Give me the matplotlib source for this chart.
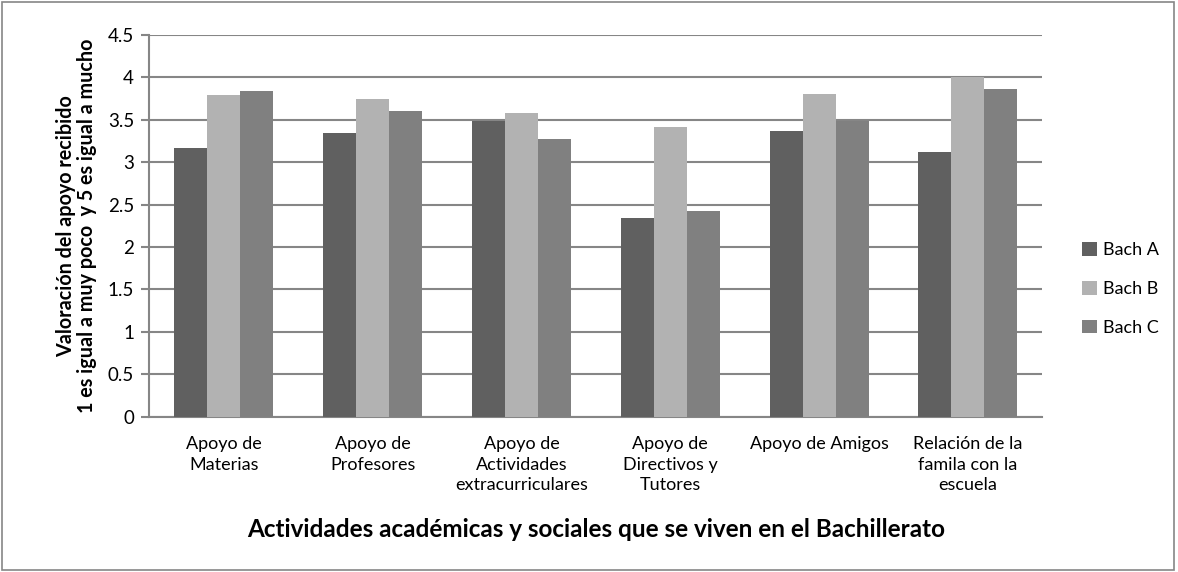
import numpy as np
import matplotlib

matplotlib.use("Agg")
import matplotlib.pyplot as plt
from matplotlib.patches import Rectangle

plt.rcParams["font.family"] = ["Lato", "DejaVu Sans"]

categories = [
    "Apoyo de\nMaterias",
    "Apoyo de\nProfesores",
    "Apoyo de\nActividades\nextracurriculares",
    "Apoyo de\nDirectivos y\nTutores",
    "Apoyo de Amigos",
    "Relación de la\nfamila con la\nescuela",
]
series_names = ["Bach A", "Bach B", "Bach C"]
bach_a = [3.17, 3.35, 3.49, 2.34, 3.37, 3.12]
bach_b = [3.79, 3.74, 3.58, 3.41, 3.80, 4.00]
bach_c = [3.84, 3.60, 3.27, 2.42, 3.49, 3.86]
colors = ["#606060", "#b2b2b2", "#808080"]

fig = plt.figure(figsize=(11.78, 5.72), dpi=100)
ax = fig.add_axes([0.1268, 0.2715, 0.758, 0.6673])

x = np.arange(len(categories))
width = 0.222
for i, (vals, name, col) in enumerate(zip([bach_a, bach_b, bach_c], series_names, colors)):
    ax.bar(x + (i - 1) * width, vals, width=width, color=col, label=name, zorder=3)

ax.set_xlim(-0.5, len(categories) - 0.5)
ax.set_ylim(0, 4.5)
ax.set_yticks(np.arange(0, 4.51, 0.5))
ax.set_yticklabels(["0", "0.5", "1", "1.5", "2", "2.5", "3", "3.5", "4", "4.5"])
ax.yaxis.grid(True, color="#868686", linewidth=1.5, zorder=0)
ax.set_axisbelow(True)

ax.set_xticks(x)
ax.set_xticklabels(categories, fontsize=13, linespacing=1.35)
ax.tick_params(axis="x", length=0, pad=14)
ax.tick_params(axis="y", length=6, color="#868686", width=1.5, labelsize=13.5, pad=5)

for side in ["top", "right"]:
    ax.spines[side].set_visible(False)
for side in ["left", "bottom"]:
    ax.spines[side].set_color("#868686")
    ax.spines[side].set_linewidth(1.5)

ax.set_xlabel("Actividades académicas y sociales que se viven en el Bachillerato",
              fontsize=17.5, fontweight="bold", labelpad=18)
ax.set_ylabel("Valoración del apoyo recibido\n1 es igual a muy poco  y 5 es igual a mucho",
              fontsize=14.2, fontweight="bold", labelpad=8, linespacing=1.05)

ax.legend(loc="center left", bbox_to_anchor=(0.905, 0.4948),
          bbox_transform=fig.transFigure, frameon=False,
          fontsize=13, handlelength=0.8, handleheight=0.8, labelspacing=1.25,
          handletextpad=0.35)

# outer chart border
fig.patches.append(Rectangle((0.002, 0.003), 0.995, 0.994, transform=fig.transFigure,
                             fill=False, edgecolor="#868686", linewidth=1.2))

fig.savefig("out.png", dpi=100)
plt.close(fig)
